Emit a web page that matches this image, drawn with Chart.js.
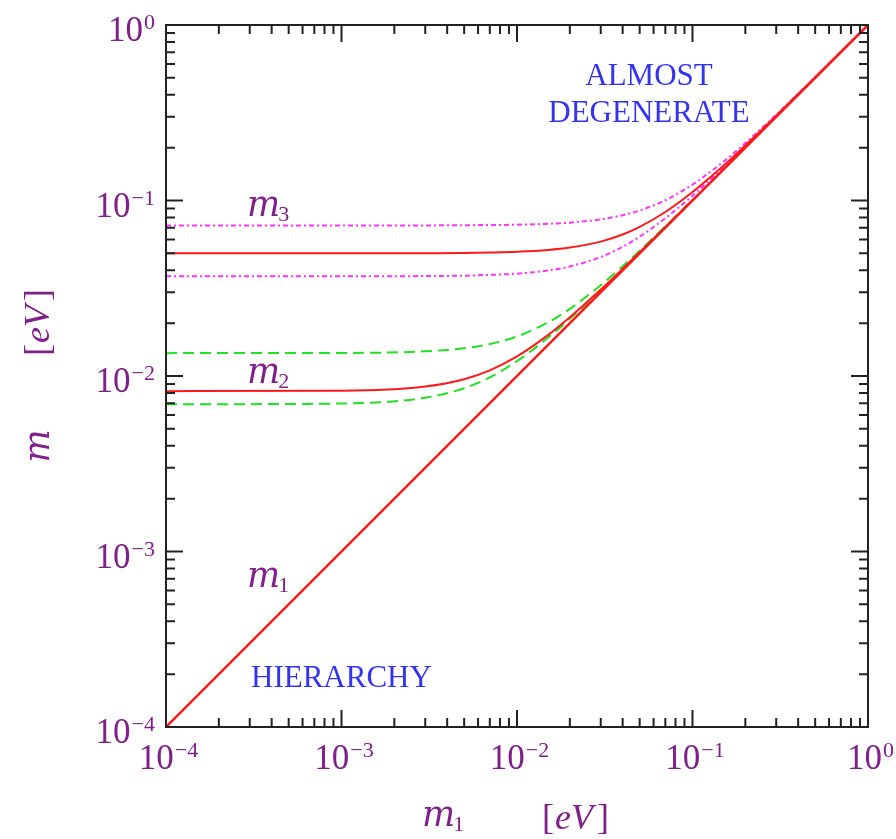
<!DOCTYPE html>
<html>
<head>
<meta charset="utf-8">
<script src="https://cdn.jsdelivr.net/npm/chart.js@4/dist/chart.umd.min.js"></script>
<style>
  html, body { margin: 0; padding: 0; background: #fff; }
  #wrap { width: 896px; height: 839px; }
</style>
</head>
<body>
<div id="wrap"><canvas id="myChart" width="896" height="839"></canvas></div>
<script>
// lightest neutrino mass m1 [eV] sample points
const m1Values = [1e-4, 1e-3, 3e-3, 5e-3, 7e-3, 0.01, 0.015, 0.02, 0.03, 0.04, 0.05, 0.07, 0.1, 0.15, 0.2, 0.3, 0.5, 1];

// m3 central and band
const m3Central = [0.05, 0.05, 0.0501, 0.0502, 0.0505, 0.051, 0.0522, 0.0539, 0.0583, 0.064, 0.0707, 0.086, 0.1118, 0.158, 0.206, 0.304, 0.5025, 1.0];
const m3Upper = [0.072, 0.072, 0.0721, 0.0723, 0.0725, 0.0728, 0.0737, 0.0748, 0.0781, 0.0825, 0.0877, 0.1003, 0.1233, 0.1664, 0.2126, 0.3085, 0.5052, 1.0026];
const m3Lower = [0.037, 0.037, 0.0371, 0.0373, 0.0377, 0.0383, 0.0399, 0.0421, 0.0476, 0.0545, 0.0622, 0.0792, 0.1066, 0.1545, 0.2034, 0.3023, 0.5014, 1.0007];

// m2 central and band
const m2Central = [0.0082, 0.00825, 0.00872, 0.00959, 0.01077, 0.01292, 0.01709, 0.02161, 0.0311, 0.04083, 0.05066, 0.07048, 0.1003, 0.1502, 0.2002, 0.3001, 0.5001, 1.0];
const m2Upper = [0.0135, 0.01353, 0.01382, 0.01439, 0.0152, 0.01679, 0.02017, 0.02412, 0.0329, 0.04221, 0.05179, 0.07129, 0.1009];
const m2Lower = [0.0069, 0.00697, 0.00752, 0.00852, 0.00983, 0.01215, 0.01651, 0.02116, 0.03078, 0.04059, 0.05047, 0.07034, 0.1002];

// m1 itself
const m1Line = [1e-4, 1];

const decades = [-4, -3, -2, -1, 0];

const purple = "#80208a";
const blue = "#3434f0";
const red = "#ff1a1a";
const magenta = "#ff33ff";
const green = "#22e022";

const toPoints = (ys) => ys.map((y, i) => ({ x: m1Values[i], y: y }));

const lineSet = (label, points, color, dash, order) => ({
  label,
  data: points,
  borderColor: color,
  borderWidth: 2,
  borderDash: dash,
  showLine: true,
  cubicInterpolationMode: "monotone",
  pointRadius: 0,
  fill: false,
  order,
});

const drawExpLabel = (ctx, exp, x, y, align) => {
  const base = "10";
  const sup = exp === 0 ? "0" : "\u2212" + Math.abs(exp);
  ctx.font = "35px 'Liberation Serif'";
  const wBase = ctx.measureText(base).width;
  ctx.font = "22px 'Liberation Serif'";
  const wSup = ctx.measureText(sup).width;
  let left = x;
  if (align === "right") left = x - wBase - wSup;
  if (align === "center") left = x - (wBase + wSup) / 2;
  ctx.textAlign = "left";
  ctx.textBaseline = "alphabetic";
  ctx.font = "35px 'Liberation Serif'";
  ctx.fillText(base, left, y);
  ctx.font = "22px 'Liberation Serif'";
  ctx.fillText(sup, left + wBase + 1, y - 12);
};

const drawMass = (ctx, sub, x, y) => {
  ctx.textAlign = "left";
  ctx.textBaseline = "alphabetic";
  ctx.font = "italic 35px 'DejaVu Serif'";
  ctx.fillText("m", x, y);
  const w = ctx.measureText("m").width;
  if (sub) {
    ctx.font = "22px 'Liberation Serif'";
    ctx.fillText(sub, x + w - 2, y + 5);
  }
};

const framePlugin = {
  id: "frame",
  afterDatasetsDraw(chart) {
    const { ctx, chartArea: a, scales } = chart;
    const xs = scales.x;
    const ys = scales.y;
    ctx.save();
    ctx.strokeStyle = "#222";
    ctx.lineWidth = 2;
    ctx.strokeRect(a.left, a.top, a.right - a.left, a.bottom - a.top);

    // inward ticks on all four sides
    ctx.beginPath();
    decades.forEach((d) => {
      for (let k = 1; k <= 9; k++) {
        const v = k * Math.pow(10, d);
        if (d === 0 && k > 1) break;
        const len = k === 1 ? 17 : 9;
        const px = xs.getPixelForValue(v);
        const py = ys.getPixelForValue(v);
        ctx.moveTo(px, a.bottom);
        ctx.lineTo(px, a.bottom - len);
        ctx.moveTo(px, a.top);
        ctx.lineTo(px, a.top + len);
        ctx.moveTo(a.left, py);
        ctx.lineTo(a.left + len, py);
        ctx.moveTo(a.right, py);
        ctx.lineTo(a.right - len, py);
      }
    });
    ctx.stroke();

    // tick labels
    ctx.fillStyle = purple;
    decades.forEach((d) => {
      const v = Math.pow(10, d);
      drawExpLabel(ctx, d, 154, ys.getPixelForValue(v) + 16, "right");
      drawExpLabel(ctx, d, xs.getPixelForValue(v) + 2, a.bottom + 42, "center");
    });

    // axis titles
    drawMass(ctx, "1", 422, 826);
    ctx.font = "36px 'Liberation Serif'";
    ctx.textAlign = "left";
    ctx.fillText("[", 542, 829);
    ctx.font = "italic 36px 'Liberation Serif'";
    ctx.fillText("eV", 555, 829);
    ctx.font = "36px 'Liberation Serif'";
    ctx.fillText("]", 597, 829);

    ctx.save();
    ctx.translate(49, 0);
    ctx.rotate(-Math.PI / 2);
    ctx.font = "italic 35px 'DejaVu Serif'";
    ctx.textAlign = "center";
    ctx.fillText("m", -446, 0);
    ctx.font = "36px 'Liberation Serif'";
    ctx.textAlign = "left";
    ctx.fillText("[", -356, 0);
    ctx.font = "italic 36px 'Liberation Serif'";
    ctx.fillText("eV", -343, 0);
    ctx.font = "36px 'Liberation Serif'";
    ctx.fillText("]", -301, 0);
    ctx.restore();

    // curve labels
    ctx.fillStyle = purple;
    drawMass(ctx, "3", 247, 216);
    drawMass(ctx, "2", 247, 383);
    drawMass(ctx, "1", 247, 587);

    ctx.fillStyle = blue;
    ctx.font = "31px 'Liberation Serif'";
    ctx.textAlign = "left";
    ctx.fillText("HIERARCHY", 251, 687);
    ctx.textAlign = "center";
    ctx.fillText("ALMOST", 649, 85);
    ctx.fillText("DEGENERATE", 649, 122);
    ctx.restore();
  },
};

const ctx = document.getElementById("myChart").getContext("2d");
const m1Set = lineSet("m1", m1Line.map((v) => ({ x: v, y: v })), red, [], 0);
m1Set.borderWidth = 2.5;

const myChart = new Chart(ctx, {
  type: "scatter",
  data: {
    datasets: [
      m1Set,
      lineSet("m3", toPoints(m3Central), red, [], 1),
      lineSet("m2", toPoints(m2Central), red, [], 2),
      lineSet("m3 upper", toPoints(m3Upper), magenta, [5, 3, 2, 3], 3),
      lineSet("m3 lower", toPoints(m3Lower), magenta, [5, 3, 2, 3], 4),
      lineSet("m2 upper", toPoints(m2Upper), green, [11, 6], 5),
      lineSet("m2 lower", toPoints(m2Lower), green, [11, 6], 6),
    ],
  },
  options: {
    responsive: false,
    animation: false,
    layout: { padding: { left: 166, right: 28, top: 25, bottom: 112 } },
    plugins: { legend: { display: false }, tooltip: { enabled: false } },
    scales: {
      x: { type: "logarithmic", min: 1e-4, max: 1, display: false },
      y: { type: "logarithmic", min: 1e-4, max: 1, display: false },
    },
  },
  plugins: [framePlugin],
});
</script>
</body>
</html>
